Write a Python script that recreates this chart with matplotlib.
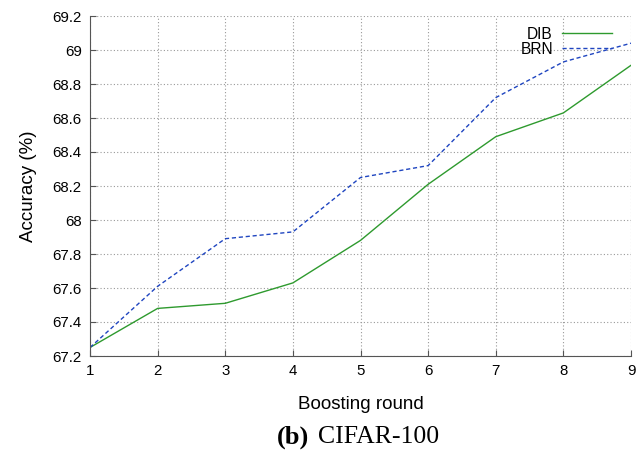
import matplotlib
matplotlib.use("Agg")
import matplotlib.pyplot as plt

rounds = [1, 2, 3, 4, 5, 6, 7, 8, 9]
dib = [67.25, 67.48, 67.51, 67.63, 67.88, 68.21, 68.49, 68.63, 68.91]
brn = [67.25, 67.61, 67.89, 67.93, 68.25, 68.32, 68.72, 68.93, 69.04]
yticks = [67.2, 67.4, 67.6, 67.8, 68, 68.2, 68.4, 68.6, 68.8, 69, 69.2]
ytick_labels = ["67.2", "67.4", "67.6", "67.8", "68", "68.2", "68.4",
                "68.6", "68.8", "69", "69.2"]

plt.rcParams["font.family"] = ["Liberation Sans", "DejaVu Sans"]

fig = plt.figure(figsize=(6.43, 4.57), dpi=100)
ax = fig.add_axes([90 / 643, 1 - 356 / 457, (631 - 90) / 643, (356 - 16) / 457])

ax.plot(rounds, dib, color="#2e9a2e", lw=1.0, label="DIB")
ax.plot(rounds, brn, color="#1f45c0", lw=1.0, ls=(0, (3, 2)), label="BRN")

ax.set_xlim(1, 9)
ax.set_ylim(67.2, 69.2)
ax.set_xticks(rounds)
ax.set_yticks(yticks)
ax.set_yticklabels(ytick_labels)
ax.tick_params(direction="in", length=4, labelsize=10.8, pad=6,
               color="#555555")
ax.grid(True, ls=(0, (1, 2)), color="#999999", lw=0.8)
for side in ["top", "right"]:
    ax.spines[side].set_visible(False)
for side in ["left", "bottom"]:
    ax.spines[side].set_color("#555555")

ax.set_xlabel("Boosting round", fontsize=13.5, labelpad=13)
ax.set_ylabel("Accuracy (%)", fontsize=13.5, labelpad=11)

leg = ax.legend(loc="upper right", frameon=False, markerfirst=False,
                fontsize=11.2, handlelength=3.2, labelspacing=0.0,
                borderaxespad=0.3, handletextpad=0.6,
                bbox_to_anchor=(0.985, 1.0))

fig.text(0.431, 0.044, "(b)", fontsize=19, fontweight="bold",
         family="Liberation Serif", ha="left", va="center")
fig.text(0.4945, 0.044, "CIFAR-100", fontsize=18.5,
         family="Liberation Serif", ha="left", va="center")

fig.savefig("out.png", dpi=100)
